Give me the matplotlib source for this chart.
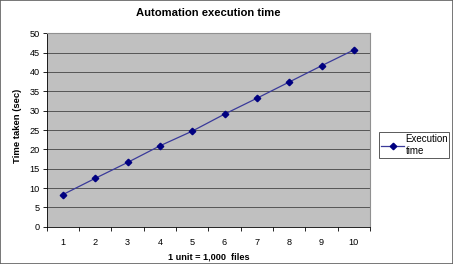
import matplotlib
matplotlib.use("Agg")
from matplotlib import pyplot as plt

plt.rcParams['font.family'] = ['Liberation Sans', 'DejaVu Sans']

units = [1, 2, 3, 4, 5, 6, 7, 8, 9, 10]
exec_time = [8.3, 12.5, 16.6, 20.9, 24.7, 29.1, 33.2, 37.4, 41.6, 45.7]

fig = plt.figure(figsize=(4.53, 2.64), dpi=100)
ax = fig.add_axes([46.7 / 453, 1 - 226.7 / 264, (370 - 46.7) / 453, (226.7 - 33.3) / 264])

ax.set_facecolor('#c0c0c0')
ax.plot(units, exec_time, color='#3a3a9a', lw=0.9, marker='D', ms=3.3,
        mfc='#000080', mec='#000080', label='Execution\ntime', zorder=3)

ax.set_xlim(0.5, 10.5)
ax.set_ylim(0, 50)
ax.set_yticks(range(0, 51, 5))
ax.set_xticks(units)
ax.set_xticks([u + 0.5 for u in range(0, 11)], minor=True)
ax.tick_params(axis='x', which='major', length=0, labelsize=6.6, pad=8)
ax.tick_params(axis='x', which='minor', length=3, width=0.6, direction='out')
ax.tick_params(axis='y', labelsize=6.6, length=3, width=0.6, pad=2)
ax.yaxis.grid(True, color='#555555', lw=0.7)
ax.set_axisbelow(True)

for s in ['top', 'right']:
    ax.spines[s].set_color('#909090')
    ax.spines[s].set_linewidth(0.8)
for s in ['left', 'bottom']:
    ax.spines[s].set_color('black')
    ax.spines[s].set_linewidth(0.6)

fig.text(0.5 * (46.7 + 370) / 453, 1 - 13 / 264, 'Automation execution time',
         ha='center', va='center', fontsize=8.1, fontweight='bold')
fig.text(0.5 * (46.7 + 370) / 453, 1 - 257 / 264, '1 unit = 1,000  files',
         ha='center', va='center', fontsize=6.6, fontweight='bold')
fig.text(18 / 453, 1 - 126 / 264, 'Time taken (sec)', rotation=90,
         ha='center', va='center', fontsize=6.8, fontweight='bold')

leg = ax.legend(loc='center left', bbox_to_anchor=(379 / 453, 1 - 171 / 264, 70 / 453, 52 / 264),
                bbox_transform=fig.transFigure, mode='expand', fontsize=7,
                frameon=True, fancybox=False, handlelength=2.4, handletextpad=0.15,
                borderaxespad=0, borderpad=0.2, labelspacing=0.2)
leg.get_frame().set_edgecolor('#303030')
leg.get_frame().set_linewidth(0.7)

border = plt.Rectangle((0, 0), 1, 1, transform=fig.transFigure, fill=False,
                       edgecolor='#606060', lw=1.2)
fig.patches.append(border)

fig.savefig('out.png', dpi=100)
